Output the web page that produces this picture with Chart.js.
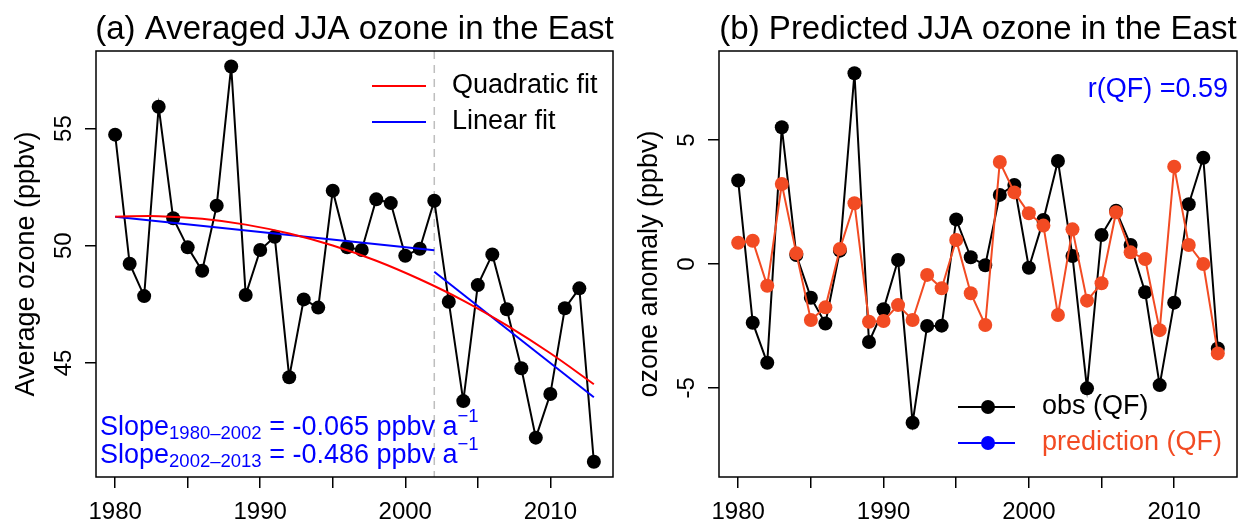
<!DOCTYPE html>
<html>
<head>
<meta charset="utf-8">
<script src="https://cdn.jsdelivr.net/npm/chart.js@4"></script>
<style>
  body { margin: 0; background: #fff; width: 1244px; height: 527px; overflow: hidden; position: relative; }
  canvas { position: absolute; top: 0; }
  #left { left: 0; }
  #right { left: 620px; }
</style>
</head>
<body>
<canvas id="left" width="620" height="527"></canvas>
<canvas id="right" width="624" height="527"></canvas>
<script>
// data
const years = [1980, 1981, 1982, 1983, 1984, 1985, 1986, 1987, 1988, 1989,
               1990, 1991, 1992, 1993, 1994, 1995, 1996, 1997, 1998, 1999,
               2000, 2001, 2002, 2003, 2004, 2005, 2006, 2007, 2008, 2009,
               2010, 2011, 2012, 2013];
const avgOzone = [54.74, 49.23, 47.85, 55.93, 51.17, 49.93, 48.93, 51.71, 57.65, 47.90,
                  49.82, 50.38, 44.39, 47.71, 47.36, 52.35, 49.93, 49.82, 51.98, 51.82,
                  49.57, 49.87, 51.92, 47.61, 43.37, 48.32, 49.63, 47.29, 44.77, 41.81,
                  43.67, 47.33, 48.18, 40.78];
const quadYears = [1980, 1983, 1986, 1989, 1992, 1995, 1998, 2001, 2004, 2007, 2010, 2013];
const quadFit = [51.24, 51.26, 51.15, 50.90, 50.52, 50.01, 49.36, 48.57, 47.66, 46.60, 45.41, 44.09];
const linYears1 = [1980, 2002];
const linFit1 = [51.24, 49.81];
const linYears2 = [2002, 2013];
const linFit2 = [48.89, 43.53];
const breakYear = 2002;

const obsAnomaly = [3.37, -2.37, -3.99, 5.52, 0.36, -1.36, -2.40, 0.54, 7.70, -3.15,
                    -1.83, 0.16, -6.41, -2.50, -2.49, 1.80, 0.27, -0.05, 2.79, 3.19,
                    -0.15, 1.78, 4.16, 0.32, -5.02, 1.17, 2.15, 0.77, -1.14, -4.89,
                    -1.56, 2.41, 4.29, -3.41];
const predAnomaly = [0.86, 0.94, -0.88, 3.23, 0.43, -2.26, -1.75, 0.61, 2.45, -2.33,
                     -2.30, -1.66, -2.26, -0.44, -0.98, 0.97, -1.18, -2.46, 4.12, 2.89,
                     2.05, 1.55, -2.06, 1.40, -1.48, -0.78, 2.09, 0.47, 0.20, -2.67,
                     3.93, 0.77, 0.00, -3.61];

const xTicks = [1980, 1985, 1990, 1995, 2000, 2005, 2010];
const leftYTicks = [45, 50, 55];
const rightYTicks = [-5, 0, 5];

const FONT = "'Liberation Sans', Arial, Helvetica, sans-serif";
const ORANGE = '#F24B23';
const BLUE = '#0000FF';

function pts(xs, ys) {
  return xs.map((x, i) => ({ x: x, y: ys[i] }));
}

function xAxis() {
  return {
    type: 'linear',
    min: 1978.68,
    max: 2014.32,
    afterBuildTicks: s => { s.ticks = xTicks.map(v => ({ value: v })); },
    afterFit: s => { s.height = 50; },
    border: { display: false },
    grid: { drawOnChartArea: false, drawTicks: true, tickLength: 11, color: '#000', lineWidth: 1.5 },
    ticks: {
      autoSkip: false, maxRotation: 0, padding: 10, color: '#000',
      font: { family: FONT, size: 24 },
      callback: v => (v % 10 === 0 ? String(v) : '')
    }
  };
}

function yAxis(min, max, ticks, width) {
  return {
    type: 'linear',
    min: min,
    max: max,
    afterBuildTicks: s => { s.ticks = ticks.map(v => ({ value: v })); },
    afterFit: s => { s.width = width; },
    border: { display: false },
    grid: { drawOnChartArea: false, drawTicks: true, tickLength: 11, color: '#000', lineWidth: 1.5 },
    ticks: { display: false }
  };
}

function rotText(ctx, text, x, y, size, color) {
  ctx.save();
  ctx.translate(x, y);
  ctx.rotate(-Math.PI / 2);
  ctx.font = size + 'px ' + FONT;
  ctx.fillStyle = color;
  ctx.textAlign = 'center';
  ctx.textBaseline = 'alphabetic';
  ctx.fillText(text, 0, 0);
  ctx.restore();
}

// parts: [text, size, raise]
function richText(ctx, x, y, parts, color) {
  ctx.save();
  ctx.fillStyle = color;
  ctx.textAlign = 'left';
  ctx.textBaseline = 'alphabetic';
  parts.forEach(p => {
    ctx.font = p[1] + 'px ' + FONT;
    ctx.fillText(p[0], x, y - p[2]);
    x += ctx.measureText(p[0]).width;
  });
  ctx.restore();
}

function framePlugin(title, yTitle, yTicks, extra) {
  return {
    id: 'frame',
    afterDraw(chart) {
      const ctx = chart.ctx;
      const a = chart.chartArea;
      const ys = chart.scales.y;
      ctx.save();
      // box
      ctx.strokeStyle = '#000';
      ctx.lineWidth = 1.5;
      ctx.strokeRect(a.left, a.top, a.right - a.left, a.bottom - a.top);
      // title
      ctx.fillStyle = '#000';
      ctx.font = '33px ' + FONT;
      ctx.textAlign = 'center';
      ctx.textBaseline = 'alphabetic';
      ctx.fillText(title, (a.left + a.right) / 2, 39);
      ctx.restore();
      // rotated y tick labels and axis title
      yTicks.forEach(v => rotText(ctx, String(v), a.left - 25, ys.getPixelForValue(v), 24, '#000'));
      rotText(ctx, yTitle, a.left - 62, (a.top + a.bottom) / 2, 27, '#000');
      extra(chart);
    }
  };
}

const baseOptions = (xa, ya, pad) => ({
  responsive: false,
  animation: false,
  devicePixelRatio: 1,
  layout: { padding: pad },
  plugins: { legend: { display: false }, tooltip: { enabled: false } },
  scales: { x: xa, y: ya }
});

// (a) averaged ozone
new Chart(document.getElementById('left'), {
  type: 'line',
  data: {
    datasets: [
      { data: pts(quadYears, quadFit), borderColor: '#FF0000', borderWidth: 2, pointRadius: 0, tension: 0.4 },
      { data: pts(linYears1, linFit1), borderColor: BLUE, borderWidth: 2, pointRadius: 0 },
      { data: pts(linYears2, linFit2), borderColor: BLUE, borderWidth: 2, pointRadius: 0 },
      { data: pts(years, avgOzone), borderColor: '#000', borderWidth: 2, pointRadius: 7,
        pointBackgroundColor: '#000', pointBorderWidth: 0, tension: 0 }
    ]
  },
  options: baseOptions(xAxis(), yAxis(40.13, 58.31, leftYTicks, 96), { top: 51, right: 7, left: 0, bottom: 0 }),
  plugins: [{
    id: 'breakLine',
    beforeDatasetsDraw(chart) {
      const ctx = chart.ctx, a = chart.chartArea;
      const x = chart.scales.x.getPixelForValue(breakYear);
      ctx.save();
      ctx.strokeStyle = '#BEBEBE';
      ctx.lineWidth = 1.5;
      ctx.setLineDash([8, 6]);
      ctx.beginPath();
      ctx.moveTo(x, a.top);
      ctx.lineTo(x, a.bottom);
      ctx.stroke();
      ctx.restore();
    }
  }, framePlugin('(a) Averaged JJA ozone in the East', 'Average ozone (ppbv)', leftYTicks, chart => {
    const ctx = chart.ctx;
    ctx.save();
    ctx.lineWidth = 2;
    [['#FF0000', 'Quadratic fit', 86], [BLUE, 'Linear fit', 122]].forEach(l => {
      ctx.strokeStyle = l[0];
      ctx.beginPath();
      ctx.moveTo(372, l[2]);
      ctx.lineTo(426, l[2]);
      ctx.stroke();
      ctx.fillStyle = '#000';
      ctx.font = '27px ' + FONT;
      ctx.textBaseline = 'middle';
      ctx.fillText(l[1], 452, l[2]);
    });
    ctx.restore();
    richText(ctx, 100, 435, [['Slope', 27, 0], ['1980\u20132002', 18.5, -4], [' = -0.065 ppbv a', 27, 0], ['\u22121', 18.5, 13]], BLUE);
    richText(ctx, 100, 463, [['Slope', 27, 0], ['2002\u20132013', 18.5, -4], [' = -0.486 ppbv a', 27, 0], ['\u22121', 18.5, 13]], BLUE);
  })]
});

// (b) predicted anomaly
new Chart(document.getElementById('right'), {
  type: 'line',
  data: {
    datasets: [
      { data: pts(years, predAnomaly), borderColor: ORANGE, borderWidth: 2, pointRadius: 7,
        pointBackgroundColor: ORANGE, pointBorderWidth: 0, tension: 0 },
      { data: pts(years, obsAnomaly), borderColor: '#000', borderWidth: 2, pointRadius: 7,
        pointBackgroundColor: '#000', pointBorderWidth: 0, tension: 0 }
    ]
  },
  options: baseOptions(xAxis(), yAxis(-8.6, 8.6, rightYTicks, 99), { top: 51, right: 7, left: 0, bottom: 0 }),
  plugins: [framePlugin('(b) Predicted JJA ozone in the East', 'ozone anomaly (ppbv)', rightYTicks, chart => {
    const ctx = chart.ctx;
    ctx.save();
    ctx.font = '27px ' + FONT;
    ctx.textBaseline = 'middle';
    ctx.textAlign = 'right';
    ctx.fillStyle = BLUE;
    ctx.fillText('r(QF) =0.59', 608, 90);
    ctx.textAlign = 'left';
    [['#000', '#000', 'obs (QF)', 407], [BLUE, ORANGE, 'prediction (QF)', 443]].forEach(l => {
      ctx.strokeStyle = l[0];
      ctx.fillStyle = l[0];
      ctx.lineWidth = 2;
      ctx.beginPath();
      ctx.moveTo(338, l[3]);
      ctx.lineTo(395, l[3]);
      ctx.stroke();
      ctx.beginPath();
      ctx.arc(368, l[3], 7, 0, Math.PI * 2);
      ctx.fill();
      ctx.fillStyle = l[1];
      ctx.fillText(l[2], 422, l[3]);
    });
    ctx.restore();
  })]
});
</script>
</body>
</html>
